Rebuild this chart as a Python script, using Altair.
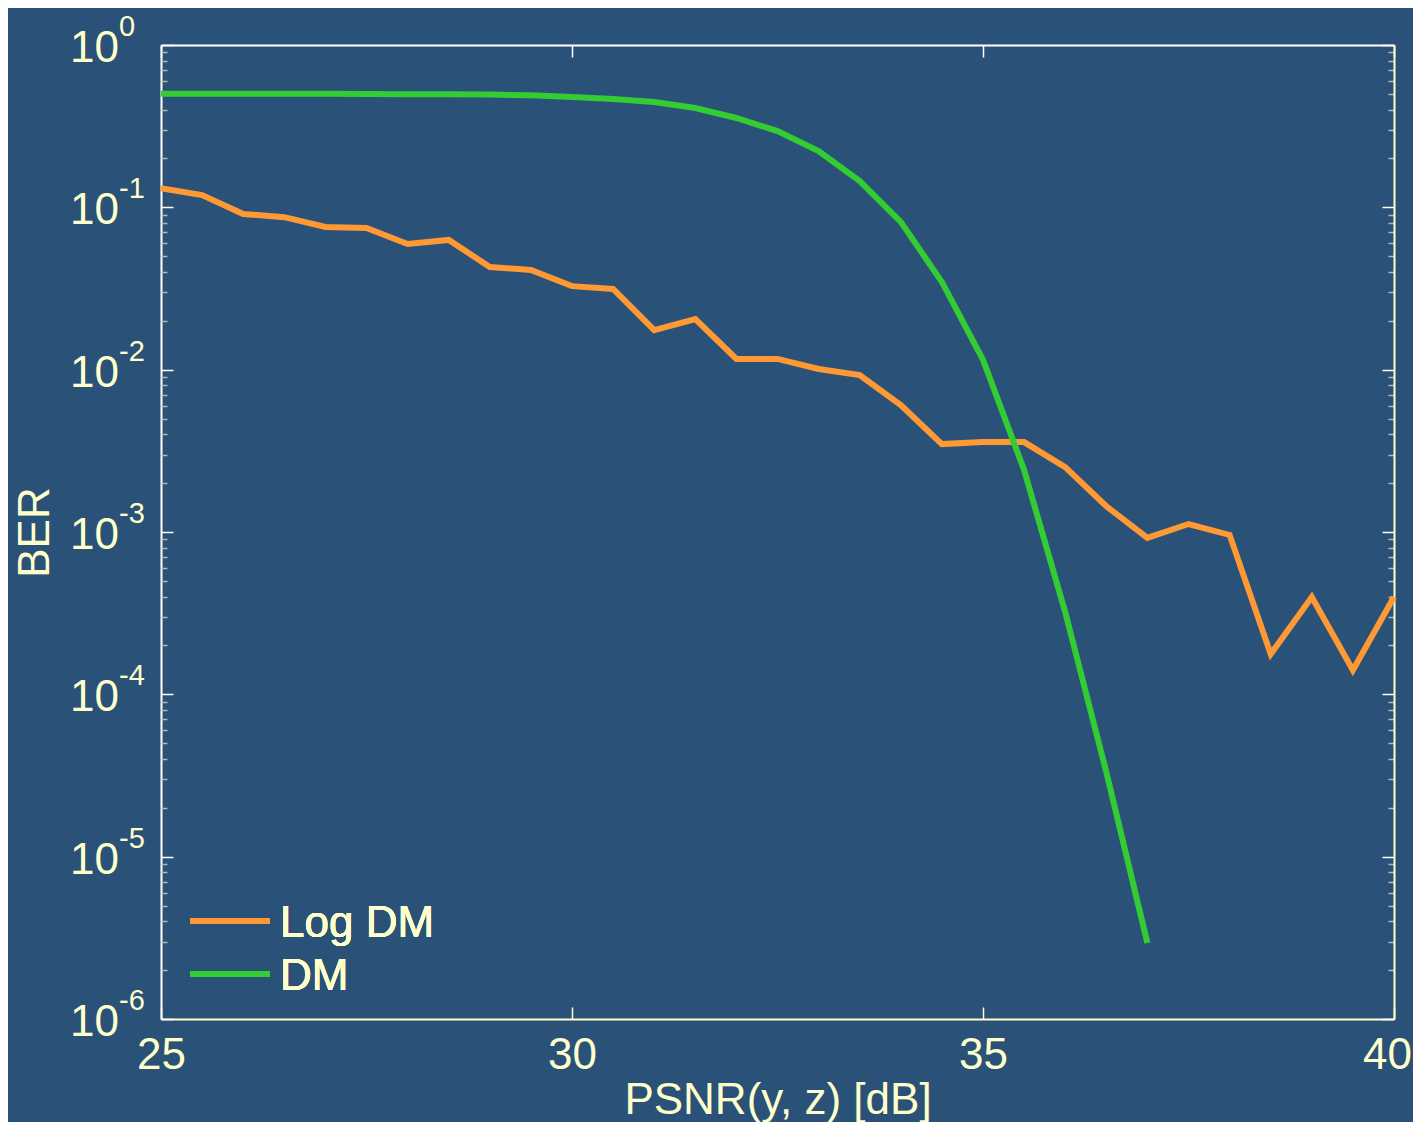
import altair as alt
import pandas as pd

# ---------------- data ----------------
SERIES = ["Log DM", "DM"]
COLORS = ["#ff9933", "#33cc33"]

PSNR_LOG = [25.0, 25.5, 26.0, 26.5, 27.0, 27.5, 28.0, 28.5, 29.0, 29.5, 30.0,
            30.5, 31.0, 31.5, 32.0, 32.5, 33.0, 33.5, 34.0, 34.5, 35.0, 35.5,
            36.0, 36.5, 37.0, 37.5, 38.0, 38.5, 39.0, 39.5, 40.0]
BER_LOG = [0.131, 0.119, 0.091, 0.087, 0.0757, 0.0746, 0.0595, 0.063, 0.0429,
           0.0411, 0.0327, 0.0314, 0.0175, 0.0205, 0.01164, 0.01164, 0.0101,
           0.00927, 0.00606, 0.00348, 0.00358, 0.00358, 0.00251, 0.00144,
           0.00092, 0.00112, 0.00096, 0.000177, 0.000398, 0.000141, 0.000398]

PSNR_DM = [25.0, 25.5, 26.0, 26.5, 27.0, 27.5, 28.0, 28.5, 29.0, 29.5, 30.0,
           30.5, 31.0, 31.5, 32.0, 32.5, 33.0, 33.5, 34.0, 34.5, 35.0, 35.5,
           36.0, 36.5, 37.0]
BER_DM = [0.5, 0.5, 0.5, 0.5, 0.5, 0.499, 0.498, 0.497, 0.495, 0.49, 0.478,
          0.465, 0.445, 0.409, 0.355, 0.295, 0.222, 0.145, 0.0813, 0.0347,
          0.0115, 0.00241, 0.000321, 3.32e-5, 2.94e-6]

X_TICKS = [25, 30, 35, 40]
DECADE_EXPONENTS = [0, -1, -2, -3, -4, -5, -6]
X_TITLE = "PSNR(y, z) [dB]"
Y_TITLE = "BER"

# ---------------- style ----------------
BG = "#2a5279"
CREAM = "#ffffcc"
WHITE = "#ffffff"
MINOR = "#b4b9ad"
FONT = "Liberation Sans"
W, H = 1233, 974

Y_TICKS = [1.0]
for k in range(-6, 0):
    for m in range(1, 10):
        Y_TICKS.append(m * 10.0 ** k)

df_log = pd.DataFrame({"psnr": PSNR_LOG, "ber": BER_LOG})
df_dm = pd.DataFrame({"psnr": PSNR_DM, "ber": BER_DM})
df_dec = pd.DataFrame({"val": [10.0 ** e for e in DECADE_EXPONENTS],
                       "exp": [str(e) for e in DECADE_EXPONENTS]})

xscale = alt.Scale(domain=[25, 40], nice=False, zero=False)
yscale = alt.Scale(type="log", domain=[1e-6, 1], nice=False)

is_major = "abs(log(datum.value)/LN10 - round(log(datum.value)/LN10)) < 0.01"
tick_size = {"condition": {"test": is_major, "value": 12}, "value": 6}
tick_color = {"condition": {"test": is_major, "value": WHITE}, "value": MINOR}
last_label_shift = {"condition": {"test": "datum.value >= 40", "value": -7}, "value": 0}

# helper layer: top frame + right frame with inward ticks
helper = alt.Chart(df_log).mark_line(opacity=0, strokeWidth=0).encode(
    x=alt.X("psnr:Q", scale=xscale,
            axis=alt.Axis(orient="bottom", offset=-H, values=X_TICKS, labels=False,
                          title=None, grid=False, tickSize=12, tickColor=WHITE,
                          tickWidth=1.5, domainColor=WHITE, domainWidth=2)),
    y=alt.Y("ber:Q", scale=yscale,
            axis=alt.Axis(orient="left", offset=-W, values=Y_TICKS, labels=False,
                          title=None, grid=False, tickSize=tick_size,
                          tickColor=tick_color, tickWidth=1.5,
                          domainColor=CREAM, domainWidth=2)),
)

orange = alt.Chart(df_log).mark_line(color=COLORS[0], strokeWidth=6).encode(
    x=alt.X("psnr:Q", scale=xscale,
            axis=alt.Axis(orient="bottom", values=X_TICKS, ticks=False, tickSize=0,
                          grid=False, title=X_TITLE, labelPadding=14,
                          labelFlush=False, labelOverlap=False,
                          labelOffset=last_label_shift,
                          domainColor=CREAM, domainWidth=2,
                          titleY=94, titleBaseline="alphabetic")),
    y=alt.Y("ber:Q", scale=yscale,
            axis=alt.Axis(orient="left", ticks=False, tickSize=0, labels=False,
                          grid=False, title=Y_TITLE, domainColor=WHITE,
                          domainWidth=2, titleX=-113, titleY=487,
                          titleBaseline="alphabetic", titleAlign="center")),
)

green = alt.Chart(df_dm).mark_line(color=COLORS[1], strokeWidth=6).encode(
    x=alt.X("psnr:Q", scale=xscale,
            axis=alt.Axis(orient="top", offset=-H, values=X_TICKS, labels=False,
                          title=None, grid=False, domain=False, tickSize=12,
                          tickColor=CREAM, tickWidth=1.5)),
    y=alt.Y("ber:Q", scale=yscale,
            axis=alt.Axis(orient="right", offset=-W, values=Y_TICKS, labels=False,
                          title=None, grid=False, domain=False, tickSize=tick_size,
                          tickColor=tick_color, tickWidth=1.5)),
)

# decade labels 10^k with superscript exponent
base_lbl = alt.Chart(df_dec).mark_text(
    align="right", baseline="alphabetic", dy=17, fontSize=44, color=CREAM, font=FONT
).encode(
    y=alt.Y("val:Q", scale=yscale, axis=None),
    x=alt.value(-42),
    text=alt.value("10"),
)
exp_lbl = alt.Chart(df_dec).mark_text(
    align="left", baseline="alphabetic", dy=-9, fontSize=29, color=CREAM, font=FONT
).encode(
    y=alt.Y("val:Q", scale=yscale, axis=None),
    x=alt.value(-42),
    text="exp:N",
)

# legend (inside, bottom-left)
legend_layers = []
for i, (name, col) in enumerate(zip(SERIES, COLORS)):
    yy = 876 + 53 * i
    legend_layers.append(
        alt.Chart(df_dec).mark_rule(color=col, strokeWidth=6).encode(
            x=alt.value(29), x2=alt.value(109), y=alt.value(yy))
    )
    legend_layers.append(
        alt.Chart(df_dec).mark_text(align="left", baseline="alphabetic",
                                    fontSize=44, color=CREAM, font=FONT).encode(
            x=alt.value(119), y=alt.value(yy + 16), text=alt.value(name))
    )

chart = alt.layer(helper, orange, green, base_lbl, exp_lbl, *legend_layers).resolve_axis(
    x="independent", y="independent"
).properties(
    width=W, height=H,
    autosize=alt.AutoSizeParams(type="none"),
    padding={"left": 153, "top": 37, "right": 19, "bottom": 103},
    background=BG,
).configure_view(stroke=None).configure_axis(
    labelFont=FONT, labelFontSize=44, labelColor=CREAM,
    titleFont=FONT, titleFontSize=44, titleColor=CREAM, titleFontWeight="normal",
)

chart.save("out.html", embed_options={"renderer": "svg", "actions": False})
